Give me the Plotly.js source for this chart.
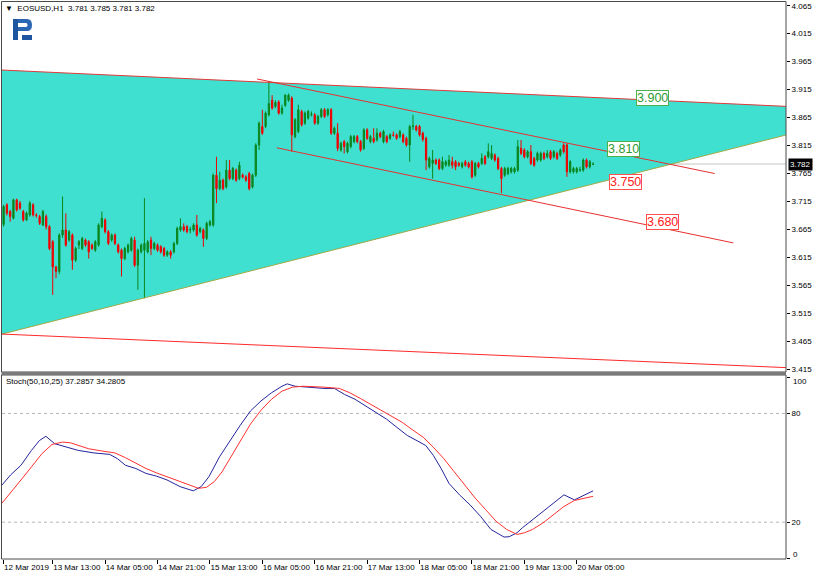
<!DOCTYPE html>
<html><head><meta charset="utf-8">
<script src="https://cdn.plot.ly/plotly-3.0.1.min.js"></script>
<style>html,body{margin:0;padding:0;background:#fff;}#chart{width:820px;height:577px;}</style>
</head><body><div id="chart"></div>
<script>
// ---- hourly EOSUSD H1 bars, first bar 12 Mar 2019 22:00 ----
const OPEN = [3.674,3.709,3.697,3.685,3.718,3.712,3.697,3.682,3.691,3.709,3.691,3.688,3.673,3.688,3.670,3.643,3.598,3.590,3.655,3.664,3.646,3.655,3.610,3.637,3.631,3.646,3.643,3.637,3.628,3.637,3.670,3.682,3.661,3.646,3.655,3.637,3.628,3.613,3.625,3.628,3.646,3.601,3.625,3.628,
3.625,3.646,3.631,3.637,3.634,3.631,3.619,3.625,3.625,3.640,3.664,3.670,3.670,3.664,3.664,3.673,3.661,3.664,3.649,3.673,3.673,3.762,3.738,3.753,3.741,3.771,3.756,3.771,3.756,3.762,3.759,3.765,3.741,3.762,3.816,3.849,3.849,3.870,3.896,3.885,
3.893,3.873,3.887,3.896,3.900,3.831,3.840,3.876,3.855,3.864,3.870,3.870,3.855,3.867,3.879,3.870,3.879,3.837,3.837,3.807,3.822,3.804,3.813,3.822,3.831,3.822,3.810,3.843,3.822,3.828,3.825,3.837,3.822,3.831,3.828,3.834,3.834,3.831,3.834,3.828,3.816,3.849,3.849,3.849,3.837,
3.828,3.777,3.783,3.789,3.789,3.774,3.780,3.780,3.786,3.786,3.783,3.777,3.786,3.783,3.786,3.762,3.783,3.783,3.795,3.795,3.792,3.798,3.792,3.774,3.762,3.765,3.768,3.768,3.771,3.810,3.807,3.795,3.804,3.792,3.789,3.789,3.801,3.795,3.804,3.795,3.801,3.798,3.816,3.816,3.768,3.768,3.768,3.771,3.771,3.789,3.777,3.781];
const HIGH = [3.709,3.712,3.700,3.720,3.720,3.716,3.700,3.697,3.716,3.712,3.694,3.691,3.700,3.692,3.673,3.646,3.600,3.658,3.724,3.694,3.664,3.658,3.634,3.646,3.652,3.649,3.646,3.640,3.646,3.676,3.697,3.685,3.664,3.658,3.658,3.640,3.631,3.634,3.640,3.652,3.652,3.631,3.640,3.721,
3.646,3.652,3.643,3.640,3.637,3.634,3.628,3.628,3.643,3.670,3.685,3.676,3.673,3.670,3.676,3.691,3.670,3.667,3.679,3.682,3.765,3.795,3.768,3.756,3.789,3.789,3.777,3.774,3.786,3.765,3.762,3.768,3.765,3.819,3.858,3.879,3.876,3.930,3.905,3.896,
3.896,3.888,3.907,3.908,3.903,3.864,3.888,3.879,3.876,3.879,3.876,3.873,3.870,3.882,3.882,3.882,3.882,3.849,3.855,3.822,3.825,3.822,3.834,3.834,3.834,3.825,3.846,3.846,3.834,3.846,3.846,3.840,3.843,3.834,3.837,3.840,3.837,3.843,3.837,3.831,3.852,3.870,3.852,3.852,3.840,
3.831,3.795,3.807,3.792,3.792,3.795,3.789,3.798,3.795,3.789,3.786,3.786,3.789,3.786,3.789,3.786,3.786,3.801,3.798,3.819,3.816,3.801,3.795,3.777,3.777,3.777,3.777,3.777,3.825,3.825,3.810,3.807,3.816,3.795,3.804,3.804,3.804,3.807,3.807,3.807,3.804,3.810,3.819,3.819,3.789,3.777,3.777,3.777,3.792,3.792,3.789,3.785];
const LOW = [3.670,3.690,3.679,3.683,3.697,3.700,3.679,3.680,3.688,3.688,3.686,3.673,3.671,3.665,3.628,3.548,3.578,3.585,3.650,3.634,3.643,3.593,3.607,3.630,3.628,3.634,3.613,3.628,3.625,3.634,3.667,3.658,3.637,3.643,3.637,3.622,3.581,3.610,3.622,3.625,3.598,3.557,3.622,3.542,
3.622,3.619,3.628,3.625,3.622,3.616,3.616,3.613,3.622,3.637,3.661,3.661,3.658,3.658,3.661,3.652,3.658,3.634,3.646,3.670,3.670,3.712,3.735,3.735,3.738,3.753,3.753,3.750,3.753,3.756,3.750,3.735,3.738,3.759,3.807,3.834,3.846,3.867,3.879,3.882,
3.870,3.870,3.884,3.893,3.804,3.828,3.837,3.849,3.852,3.861,3.867,3.852,3.852,3.864,3.864,3.867,3.834,3.834,3.805,3.804,3.801,3.801,3.810,3.819,3.819,3.804,3.807,3.825,3.819,3.819,3.822,3.828,3.819,3.819,3.825,3.831,3.825,3.828,3.819,3.813,3.786,3.843,3.840,3.831,3.822,
3.771,3.774,3.756,3.780,3.771,3.771,3.777,3.777,3.774,3.771,3.777,3.774,3.777,3.774,3.756,3.759,3.774,3.780,3.780,3.792,3.789,3.786,3.771,3.730,3.759,3.762,3.765,3.765,3.768,3.798,3.792,3.792,3.780,3.777,3.786,3.786,3.789,3.792,3.789,3.792,3.789,3.795,3.801,3.759,3.765,3.765,3.765,3.768,3.768,3.774,3.774,3.781];
const CLOSE = [3.706,3.694,3.688,3.718,3.700,3.703,3.682,3.694,3.712,3.691,3.690,3.676,3.697,3.670,3.631,3.598,3.590,3.655,3.664,3.637,3.661,3.610,3.631,3.643,3.649,3.637,3.625,3.631,3.643,3.673,3.685,3.661,3.640,3.655,3.640,3.625,3.613,3.631,3.637,3.649,3.601,3.628,3.637,3.640,
3.643,3.631,3.640,3.628,3.625,3.619,3.625,3.619,3.640,3.667,3.670,3.664,3.661,3.665,3.673,3.655,3.667,3.649,3.676,3.679,3.762,3.738,3.753,3.738,3.771,3.756,3.774,3.753,3.780,3.759,3.753,3.738,3.762,3.816,3.855,3.837,3.873,3.890,3.882,3.892,
3.873,3.882,3.905,3.905,3.834,3.861,3.879,3.852,3.873,3.876,3.871,3.855,3.867,3.879,3.867,3.879,3.837,3.846,3.810,3.819,3.813,3.819,3.831,3.831,3.822,3.807,3.843,3.828,3.831,3.822,3.837,3.831,3.840,3.822,3.834,3.833,3.828,3.840,3.822,3.816,3.849,3.850,3.843,3.834,3.826,
3.789,3.792,3.789,3.783,3.774,3.786,3.786,3.789,3.780,3.777,3.780,3.783,3.780,3.777,3.759,3.783,3.777,3.792,3.783,3.804,3.801,3.789,3.774,3.756,3.774,3.774,3.774,3.774,3.813,3.801,3.795,3.804,3.783,3.780,3.801,3.801,3.792,3.801,3.792,3.804,3.792,3.807,3.804,3.768,3.786,3.774,3.774,3.772,3.789,3.777,3.786,3.782];

// Stochastic(50,10,25): bar offsets and values
const stochKBars = [-0.5,2.1,5.3,8.5,10.9,12.9,15.6,19.6,22.8,27.6,32.4,34.8,37.2,40.4,43.5,46.7,49.9,53.9,57.9,60.3,62.7,65.9,69.1,72.2,75.4,78.6,81.8,85.0,86.6,89.0,91.4,94.6,97.8,101.0,104.1,107.3,110.5,113.7,116.9,120.1,123.3,126.5,128.9,131.2,133.6,136.0,139.2,142.4,145.6,148.8,151.2,152.8,154.4,156.8,158.4,161.5,164.7,167.9,171.1,174.3,175.9,180];
const stochK = [40.5,46,51.4,59.6,65,67.4,63.3,61.1,59.6,58.2,57.4,55,51.4,49.6,46.9,45.4,43.3,39.6,37.3,39.6,45.1,56,65,73.3,81.4,86.9,91.4,95,96.3,95,94.7,94.2,93.8,93.8,90.5,87.8,84.2,80.2,76.9,72.3,67.8,64.7,62.3,56.9,49.6,41.4,35.1,29.6,23.3,16,13.25,11.8,12,14.2,16.9,21.4,26,30.5,35.1,32.3,33.6,37.29];
const stochDBars = [-0.5,2.1,5.3,8.5,11.7,14.8,18,20.4,22.8,26,30,34,37.2,40.4,43.5,46.7,49.9,53.1,56.3,59.5,61.9,64.3,66.7,69.1,72.2,75.4,78.6,81.8,85,88.2,91.4,94.6,97.8,102.5,105.7,108.9,112.1,115.3,118.5,121.7,124.9,128.1,131.2,134.4,137.6,140.8,144,147.2,150.4,153.6,156.8,159.1,161.5,164.7,167.9,171.1,174.3,177.5,180];
const stochD = [30.5,36,43.3,50.5,57.8,62.9,64.2,63.8,62.3,60.5,59.3,58.2,55.6,52.7,49.6,47.2,45.1,42.9,40.5,38.7,39.2,42.3,47.8,55.1,64.2,74.2,81.8,87.8,92.3,94.5,95,94.9,94.5,93.8,91.4,88.3,85.1,81.8,78.7,75.1,70.9,66.9,61.4,55.1,47.8,40.5,33.3,26.9,20.5,16,13.25,14.2,16,19.6,24.2,28.7,32,33.3,34.28];
const stochLevels = [20, 80];
const stochTicks = [0, 20, 80, 100];

// Drawn objects (bar offset, price)
const triUpperBars = [-0.5, 239], triUpperPrices = [3.950, 3.885];
const triLowerBars = [-0.5, 239], triLowerPrices = [3.478, 3.834];
const baseLineBars = [-0.5, 239], baseLinePrices = [3.478, 3.418];
const chanUpperBars = [77.4, 217.1], chanUpperPrices = [3.934, 3.765];
const chanLowerBars = [83.4, 222.8], chanLowerPrices = [3.811, 3.641];
const labelTexts = ['3.900','3.810','3.750','3.680'];
const labelPrices = [3.900, 3.808, 3.750, 3.679];
const labelBars = [198.1, 189.3, 190.0, 201.2];
const labelColors = ['#2e9a2e','#2e9a2e','#ff2020','#ff2020'];
const labelBorders = ['#4caf50','#4caf50','#ff5050','#ff5050'];
const bidPrice = 3.782;

const tickTimes = ['2019-03-12 22:00','2019-03-13 13:00','2019-03-14 05:00','2019-03-14 21:00','2019-03-15 13:00','2019-03-16 05:00','2019-03-16 21:00','2019-03-17 13:00','2019-03-18 05:00','2019-03-18 21:00','2019-03-19 13:00','2019-03-20 05:00'];
const tickTexts = ['12 Mar 2019','13 Mar 13:00','14 Mar 05:00','14 Mar 21:00','15 Mar 13:00','16 Mar 05:00','16 Mar 21:00','17 Mar 13:00','18 Mar 05:00','18 Mar 21:00','19 Mar 13:00','20 Mar 05:00'];

const START = Date.UTC(2019, 2, 12, 22, 0, 0);
function T(h){ return new Date(START + Math.round(h*3600000)).toISOString().slice(0,19).replace('T',' '); }
function TU(h){ return T(h).replace(' ', '_'); }  // date form for shape paths
const barTimes = OPEN.map((_, i) => T(i));

const FONT = 'Liberation Sans, Arial, sans-serif';
const PX = px => (px - 2) / 784;
const PY = py => (559 - py) / 557;

const traces = [
  {type:'candlestick', x: barTimes, open: OPEN, high: HIGH, low: LOW, close: CLOSE, xaxis:'x', yaxis:'y',
   increasing:{line:{color:'#0a861c', width:1}, fillcolor:'#0a861c'},
   decreasing:{line:{color:'#f00000', width:1}, fillcolor:'#f00000'},
   whiskerwidth:0, hoverinfo:'skip', showlegend:false},
  {type:'scatter', x: triUpperBars.map(T), y: triUpperPrices, mode:'lines', line:{color:'#e03a3a', width:1}, hoverinfo:'skip', showlegend:false},
  {type:'scatter', x: triLowerBars.map(T), y: triLowerPrices, mode:'lines', line:{color:'#9aaa48', width:1}, hoverinfo:'skip', showlegend:false},
  {type:'scatter', x: baseLineBars.map(T), y: baseLinePrices, mode:'lines', line:{color:'#ff2a2a', width:1}, hoverinfo:'skip', showlegend:false},
  {type:'scatter', x: chanUpperBars.map(T), y: chanUpperPrices, mode:'lines', line:{color:'#e83030', width:1}, hoverinfo:'skip', showlegend:false},
  {type:'scatter', x: chanLowerBars.map(T), y: chanLowerPrices, mode:'lines', line:{color:'#e83030', width:1}, hoverinfo:'skip', showlegend:false},
  {type:'scatter', x: stochKBars.map(T), y: stochK, mode:'lines', line:{color:'#24249c', width:1}, xaxis:'x', yaxis:'y2', hoverinfo:'skip', showlegend:false},
  {type:'scatter', x: stochDBars.map(T), y: stochD, mode:'lines', line:{color:'#ff3030', width:1}, xaxis:'x', yaxis:'y2', hoverinfo:'skip', showlegend:false}
];

const annotations = labelTexts.map((t, i) => ({
  xref:'x', yref:'y', x: T(labelBars[i]), y: labelPrices[i], text: t, showarrow:false,
  font:{family:FONT, size:12.5, color: labelColors[i]}, bgcolor:'#ffffff', bordercolor: labelBorders[i], borderwidth:1, borderpad:0,
  xanchor:'center', yanchor:'middle'
}));
annotations.push(
  {xref:'paper', yref:'y', x: PX(788), y: bidPrice, xanchor:'left', yanchor:'middle', text: bidPrice.toFixed(3), showarrow:false,
   font:{family:FONT, size:8, color:'#ffffff'}, bgcolor:'#000000', borderpad:1},
  {xref:'paper', yref:'paper', x: PX(3), y: PY(8), xanchor:'left', yanchor:'middle', showarrow:false,
   text:'▼  EOSUSD,H1  3.781 3.785 3.781 3.782', font:{family:FONT, size:8, color:'#000'}},
  {xref:'paper', yref:'paper', x: PX(4), y: PY(381), xanchor:'left', yanchor:'middle', showarrow:false,
   text:'Stoch(50,10,25) 37.2857 34.2805', font:{family:FONT, size:8, color:'#000'}},
  // end labels of the stochastic scale sit inside the panel, as in the terminal
  {xref:'paper', yref:'paper', x: PX(791), y: PY(381), xanchor:'left', yanchor:'middle', showarrow:false,
   text: String(stochTicks[3]), font:{family:FONT, size:8, color:'#000'}},
  {xref:'paper', yref:'paper', x: PX(791), y: PY(554), xanchor:'left', yanchor:'middle', showarrow:false,
   text: String(stochTicks[0]), font:{family:FONT, size:8, color:'#000'}}
);

function P(px, py){ return PX(px).toFixed(5) + ',' + PY(py).toFixed(5); }
const triPath = 'M' + TU(triUpperBars[0]) + ',' + triUpperPrices[0] +
                ' L' + TU(triUpperBars[1]) + ',' + triUpperPrices[1] +
                ' L' + TU(triLowerBars[1]) + ',' + triLowerPrices[1] +
                ' L' + TU(triLowerBars[0]) + ',' + triLowerPrices[0] + ' Z';
const shapes = [
  {type:'path', xref:'x', yref:'y', path: triPath, fillcolor:'#40E0D0', line:{width:0}, layer:'below'},
  {type:'line', xref:'paper', yref:'y', x0:0, x1:1, y0:bidPrice, y1:bidPrice, line:{color:'#c4c4c4', width:1}, layer:'below'},
  ...stochLevels.map(v => ({type:'line', xref:'paper', yref:'y2', x0:0, x1:1, y0:v, y1:v, line:{color:'#b4b4b4', width:1, dash:'3px,3px'}, layer:'below'})),
  {type:'rect', xref:'paper', yref:'paper', x0:PX(1.5), x1:PX(786), y0:PY(372), y1:PY(1.5), line:{color:'#4a4a4a', width:1}},
  {type:'rect', xref:'paper', yref:'paper', x0:PX(1.5), x1:PX(786), y0:PY(559), y1:PY(375), line:{color:'#4a4a4a', width:1}},
  {type:'rect', xref:'paper', yref:'paper', x0:PX(1.5), x1:PX(786), y0:PY(375), y1:PY(372), fillcolor:'#7a7a7a', line:{width:0}},
  // logo
  {type:'path', xref:'paper', yref:'paper', fillcolor:'#1d55a0', line:{width:0},
   path:'M'+P(13,19)+' L'+P(18,19)+' L'+P(18,40)+' L'+P(13,40)+' Z'},
  {type:'path', xref:'paper', yref:'paper', fillcolor:'#2a66b4', line:{width:0},
   path:'M'+P(18,19)+' L'+P(27,19)+' Q'+P(32,19)+' '+P(32,25)+' Q'+P(32,31)+' '+P(27,31)+' L'+P(18,31)+' L'+P(18,27)+' L'+P(26,27)+' Q'+P(27.5,27)+' '+P(27.5,25)+' Q'+P(27.5,23)+' '+P(26,23)+' L'+P(18,23)+' Z'},
  {type:'path', xref:'paper', yref:'paper', fillcolor:'#1d55a0', line:{width:0},
   path:'M'+P(22,35)+' L'+P(32,35)+' L'+P(32,40)+' L'+P(22,40)+' Z'}
];

const layout = {
  width:820, height:577, margin:{l:2, r:34, t:2, b:18},
  paper_bgcolor:'#ffffff', plot_bgcolor:'#ffffff', showlegend:false, boxgap:0.45,
  font:{family:FONT, size:8, color:'#000'},
  xaxis:{type:'date', anchor:'y2', domain:[0,1], range:[T(-0.49), T(238.9)], rangeslider:{visible:false},
    tickmode:'array', tickvals: tickTimes, ticktext: tickTexts, tickangle:0, ticks:'outside', ticklen:4, tickcolor:'#000',
    ticklabelposition:'outside right', showgrid:false, zeroline:false, showline:false, fixedrange:true,
    tickfont:{family:FONT, size:8, color:'#000'}},
  yaxis:{domain:[PY(372), 1], anchor:'x', side:'right', range:[3.4102, 4.0716], tickmode:'linear', tick0:3.415, dtick:0.05,
    tickformat:'.3f', ticks:'outside', ticklen:3, tickcolor:'#000', showgrid:false, zeroline:false, showline:false,
    tickfont:{family:FONT, size:8, color:'#000'}},
  yaxis2:{domain:[0, PY(375)], anchor:'x', side:'right', range:[-0.3, 101.2], tickmode:'array', tickvals: stochTicks,
    ticktext: stochTicks.map(v => (v === 0 || v === 100) ? '' : String(v)),
    ticks:'outside', ticklen:3, tickcolor:'#000', showgrid:false, zeroline:false, showline:false,
    tickfont:{family:FONT, size:8, color:'#000'}},
  annotations: annotations, shapes: shapes
};

Plotly.newPlot('chart', traces, layout, {displayModeBar:false, staticPlot:true});
</script>
</body></html>
